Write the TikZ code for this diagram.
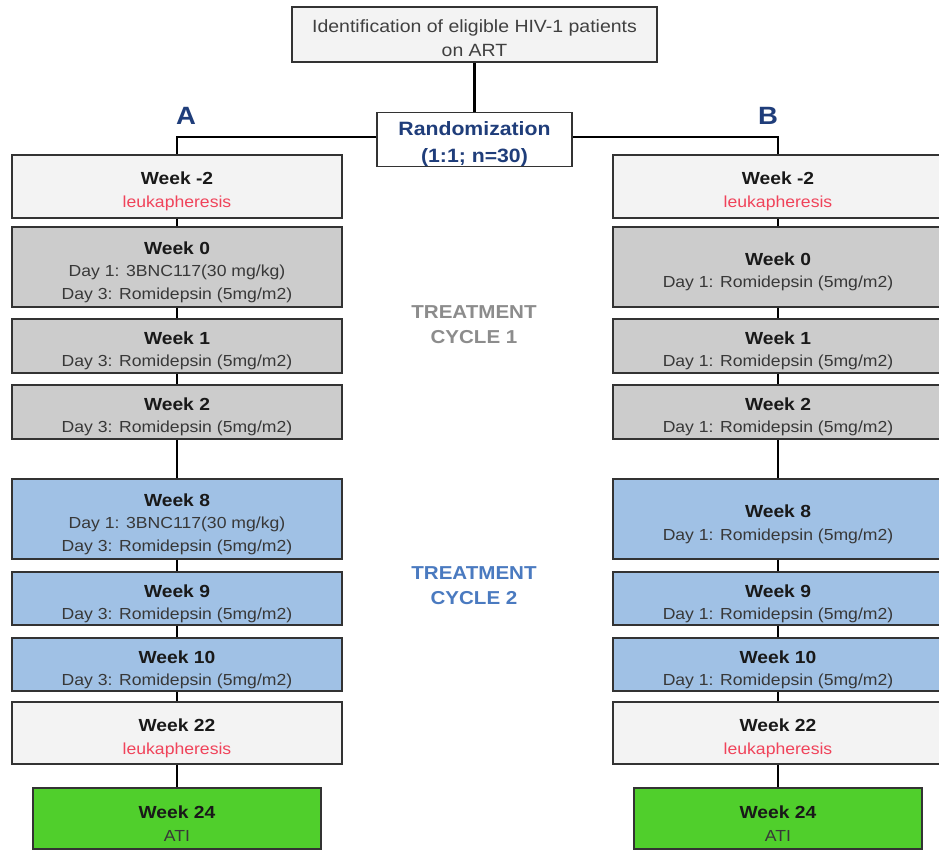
\documentclass[tikz,border=0pt]{standalone}
\usepackage{fontspec}
\setmainfont{Liberation Sans}[FakeStretch=1.1]
\definecolor{lite}{HTML}{F3F3F3}
\definecolor{grayf}{HTML}{CCCCCC}
\definecolor{bluef}{HTML}{A0C1E5}
\definecolor{greenf}{HTML}{50CF2C}
\definecolor{redt}{HTML}{F0435A}
\definecolor{navy}{HTML}{1F3D7A}
\definecolor{cycA}{HTML}{8C8C8C}
\definecolor{cycB}{HTML}{4A7AC0}
\definecolor{bord}{HTML}{333333}
\definecolor{dtext}{HTML}{383838}
\newcommand\wkfont{\fontsize{17.5}{22}\selectfont\bfseries\color{black!90}}
\newcommand\wk[1]{{\wkfont\rule{0pt}{22.8pt}#1}}
\newcommand\leuk[1]{{\color{redt}#1}}
\begin{document}
\begin{tikzpicture}[x=1pt,y=-1pt,
  box/.style={draw=bord, line width=1.3pt, minimum width=330pt, inner sep=0pt,
    align=center, font=\fontsize{16}{22.5}\selectfont, text=dtext},
  litebox/.style={box, fill=lite},
  graybox/.style={box, fill=grayf},
  bluebox/.style={box, fill=bluef},
  greenbox/.style={box, fill=greenf, minimum width=288pt},
  conn/.style={draw=black, line width=2.4pt},
  armlabel/.style={font=\fontsize{25}{25}\selectfont\bfseries, text=navy},
  cycle/.style={font=\fontsize{18.7}{25}\selectfont\bfseries, align=center, inner sep=0pt}]
\useasboundingbox[fill=white] (0,0) rectangle (939,852);

% top
\node[draw=bord, line width=1.3pt, fill=lite, minimum width=365pt, minimum height=55pt,
  inner sep=0pt, align=center, font=\fontsize{17.7}{24}\selectfont, text=black!75] (top) at (474.5,34.5)
  {\rule{0pt}{21pt}Identification of eligible HIV-1 patients\\on ART};
\node[draw=bord, line width=1.3pt, fill=white, minimum width=195pt, minimum height=53pt,
  inner sep=0pt, align=center, font=\fontsize{19.3}{27}\selectfont\bfseries, text=navy] (rand) at (474.5,139.5)
  {\rule{0pt}{23pt}Randomization\\(1:1; n=30)};
\node[armlabel] (labA) at (186,116) {A};
\node[armlabel] (labB) at (768,116) {B};

% arm A
\node[litebox, minimum height=63pt] (a1) at (177,186.5) {\wk{Week -2}\\\leuk{leukapheresis}};
\node[graybox, minimum height=80pt] (a2) at (177,267) {\wk{Week 0}\\Day 1: 3BNC117(30 mg/kg)\\Day 3: Romidepsin (5mg/m2)};
\node[graybox, minimum height=54pt] (a3) at (177,346) {\wk{Week 1}\\Day 3: Romidepsin (5mg/m2)};
\node[graybox, minimum height=54pt] (a4) at (177,412) {\wk{Week 2}\\Day 3: Romidepsin (5mg/m2)};
\node[bluebox, minimum height=80pt] (a5) at (177,519) {\wk{Week 8}\\Day 1: 3BNC117(30 mg/kg)\\Day 3: Romidepsin (5mg/m2)};
\node[bluebox, minimum height=53pt] (a6) at (177,598.5) {\wk{Week 9}\\Day 3: Romidepsin (5mg/m2)};
\node[bluebox, minimum height=53pt] (a7) at (177,664.5) {\wk{Week 10}\\Day 3: Romidepsin (5mg/m2)};
\node[litebox, minimum height=62pt] (a8) at (177,733) {\wk{Week 22}\\\leuk{leukapheresis}};
\node[greenbox, minimum height=61pt] (a9) at (177,818.5) {\wk{Week 24}\\ATI};

% arm B
\node[litebox, minimum height=63pt] (b1) at (778,186.5) {\wk{Week -2}\\\leuk{leukapheresis}};
\node[graybox, minimum height=80pt] (b2) at (778,267) {\wk{Week 0}\\Day 1: Romidepsin (5mg/m2)};
\node[graybox, minimum height=54pt] (b3) at (778,346) {\wk{Week 1}\\Day 1: Romidepsin (5mg/m2)};
\node[graybox, minimum height=54pt] (b4) at (778,412) {\wk{Week 2}\\Day 1: Romidepsin (5mg/m2)};
\node[bluebox, minimum height=80pt] (b5) at (778,519) {\wk{Week 8}\\Day 1: Romidepsin (5mg/m2)};
\node[bluebox, minimum height=53pt] (b6) at (778,598.5) {\wk{Week 9}\\Day 1: Romidepsin (5mg/m2)};
\node[bluebox, minimum height=53pt] (b7) at (778,664.5) {\wk{Week 10}\\Day 1: Romidepsin (5mg/m2)};
\node[litebox, minimum height=62pt] (b8) at (778,733) {\wk{Week 22}\\\leuk{leukapheresis}};
\node[greenbox, minimum height=61pt] (b9) at (778,818.5) {\wk{Week 24}\\ATI};

% cycle labels
\node[cycle, text=cycA] (c1) at (474,322) {\rule{0pt}{17.4pt}TREATMENT\\CYCLE 1};
\node[cycle, text=cycB] (c2) at (474,583) {\rule{0pt}{17.4pt}TREATMENT\\CYCLE 2};

% connectors
\draw[conn] (top.south) -- (rand.north);
\draw[conn] ([yshift=2.5pt]rand.west) -| (a1.north);
\draw[conn] ([yshift=2.5pt]rand.east) -| (b1.north);
\foreach \u/\v in {a1/a2,a2/a3,a3/a4,a4/a5,a5/a6,a6/a7,a7/a8,a8/a9,
                   b1/b2,b2/b3,b3/b4,b4/b5,b5/b6,b6/b7,b7/b8,b8/b9}
  \draw[conn] (\u.south) -- (\v.north);
\end{tikzpicture}
\end{document}
